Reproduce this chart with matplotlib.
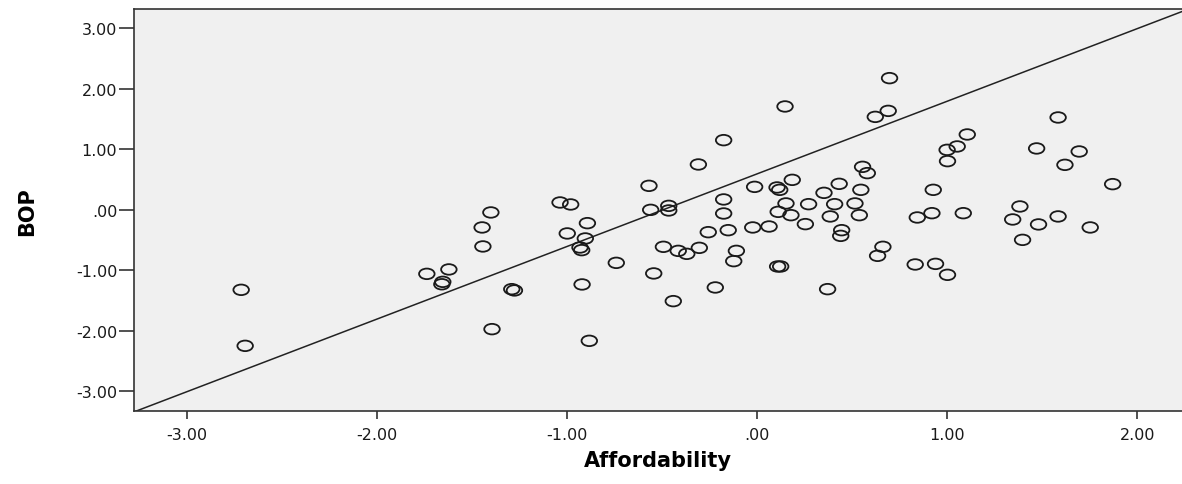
import numpy as np
import matplotlib
matplotlib.use("Agg")
import matplotlib.pyplot as plt
from matplotlib.path import Path
from matplotlib.transforms import Affine2D

# Affordability (x) and BOP (y) scores
affordability = [
    -2.716, -2.695, -1.739, -1.623, -1.655, -1.660, -1.402, -1.448, -1.444, -1.396,
    -1.292, -1.278, -1.038, -0.982, -0.894, -1.000, -0.905, -0.933, -0.924, -0.922,
    -0.884, -0.742, -0.570, -0.561, -0.466, -0.466, -0.545, -0.494, -0.416, -0.371,
    -0.305, -0.442, -0.310, -0.177, -0.258, -0.177, -0.177, -0.153, -0.110, -0.124,
    -0.221, -0.014, -0.024, 0.062, 0.104, 0.107, 0.146, 0.696, 0.621, 0.689,
    1.105, 1.052, 0.999, 1.001, 0.554, 0.579, 0.184, 0.118, 0.431, 0.351,
    0.545, 0.926, 0.151, 0.110, 0.177, 0.270, 0.407, 0.514, 0.384, 0.537,
    0.253, 0.444, 0.439, 0.842, 0.919, 1.084, 0.661, 0.633, 0.123, 0.370,
    0.831, 0.938, 1.001, 1.583, 1.470, 1.694, 1.619, 1.870, 1.382, 1.344,
    1.480, 1.583, 1.752, 1.396,
]
bop = [
    -1.322, -2.248, -1.058, -0.985, -1.190, -1.230, -0.043, -0.291, -0.605, -1.972,
    -1.311, -1.332, 0.122, 0.089, -0.220, -0.390, -0.473, -0.622, -0.666, -1.233,
    -2.165, -0.876, 0.397, 0.000, 0.066, -0.010, -1.051, -0.611, -0.678, -0.727,
    -0.628, -1.509, 0.750, 1.152, -0.369, 0.172, -0.060, -0.336, -0.678, -0.848,
    -1.283, 0.380, -0.291, -0.275, 0.370, -0.936, 1.709, 2.177, 1.537, 1.636,
    1.246, 1.048, 0.992, 0.805, 0.711, 0.607, 0.496, 0.331, 0.430, 0.281,
    0.331, 0.331, 0.106, -0.033, -0.088, 0.094, 0.094, 0.106, -0.109, -0.088,
    -0.236, -0.336, -0.430, -0.126, -0.055, -0.055, -0.611, -0.760, -0.936, -1.311,
    -0.903, -0.893, -1.074, 1.527, 1.015, 0.965, 0.744, 0.425, 0.056, -0.159,
    -0.241, -0.109, -0.291, -0.496,
]

# reference line endpoints
line_x = [-3.28, 2.27]
line_y = [-3.34, 3.32]

ticks = [-3, -2, -1, 0, 1, 2, 3]
tick_labels = ["-3.00", "-2.00", "-1.00", ".00", "1.00", "2.00", "3.00"]

plt.rcParams["font.family"] = "DejaVu Sans"

fig = plt.figure(figsize=(11.82, 4.85), dpi=100)
ax = fig.add_axes([134 / 1182, 72.7 / 485, 1 - 134 / 1182, 402.3 / 485])
ax.set_facecolor("#f0f0f0")

# SPSS draws slightly flattened open circles
ellipse = Path.unit_circle().transformed(Affine2D().scale(1.0, 0.68))

ax.scatter(affordability, bop, marker=ellipse, s=125, facecolors="none",
           edgecolors="#1a1a1a", linewidths=1.3, zorder=3)
ax.plot(line_x, line_y, color="#222222", lw=1.1, zorder=2, clip_on=True)

ax.set_xlim(-3.28, 2.235)
ax.set_ylim(-3.33, 3.32)

ax.set_xticks(ticks[:-1])
ax.set_xticklabels(tick_labels[:-1])
ax.set_yticks(ticks)
ax.set_yticklabels(tick_labels)

for s in ["left", "bottom", "top"]:
    ax.spines[s].set_color("#333333")
    ax.spines[s].set_linewidth(1.2)
ax.spines["right"].set_visible(False)

ax.tick_params(axis="y", length=11, width=1.2, color="#333333", pad=1,
               labelsize=11.5, labelcolor="#1a1a1a")
ax.tick_params(axis="x", length=6, width=1.2, color="#333333", pad=5,
               labelsize=11.5, labelcolor="#1a1a1a")

ax.set_xlabel("Affordability", fontsize=15, fontweight="bold", labelpad=6)
ax.set_ylabel("BOP", fontsize=15, fontweight="bold", labelpad=28)

fig.savefig("out.png", dpi=100)
